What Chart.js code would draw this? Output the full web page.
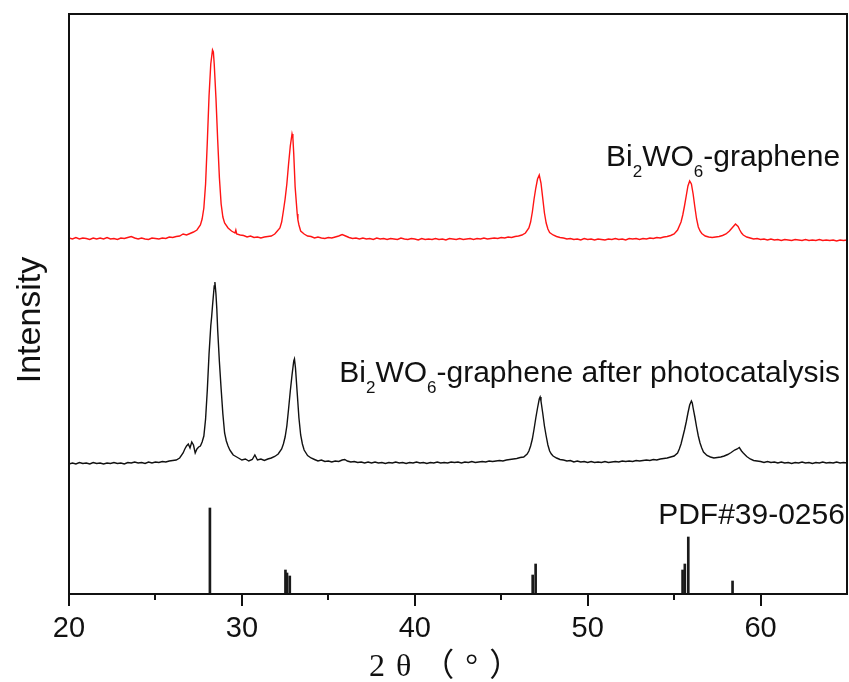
<!DOCTYPE html>
<html><head><meta charset="utf-8">
<script src="https://cdn.jsdelivr.net/npm/chart.js@4.4.1/dist/chart.umd.min.js"></script>
<style>html,body{margin:0;padding:0;background:#fff;overflow:hidden}canvas{display:block}</style>
</head><body>
<canvas id="c" width="849" height="682"></canvas>
<script>
// ---- DATA (2θ in degrees, intensity in arbitrary units) ----
const redScan = [
[20.0,356],[20.2,355],[20.4,356.5],[20.6,355],[20.8,356],[21.0,355.5],[21.2,354.5],[21.4,356],[21.6,355],[21.8,356],
[22.0,355],[22.2,356.5],[22.4,355],[22.6,355.5],[22.8,354.5],[23.0,356],[23.2,355.5],[23.4,356.5],[23.6,357.5],[23.8,356],
[24.0,355],[24.2,356],[24.4,355],[24.6,354.5],[24.8,356],[25.0,355.5],[25.2,355],[25.4,356],[25.6,355.5],[25.8,357],
[26.0,356.5],[26.2,357.5],[26.4,358],[26.6,360],[26.8,359],[27.0,360.5],[27.2,362],[27.4,364],[27.6,369],[27.7,375],
[27.8,386],[27.9,410],[28.0,452],[28.1,498],[28.2,530],[28.3,544],[28.35,542],[28.4,530],[28.5,496],[28.6,454],
[28.7,416],[28.8,390],[28.9,377],[29.0,371],[29.2,366],[29.4,363],[29.6,361],[29.65,364],[29.7,360],[29.9,359],
[30.1,358.5],[30.3,357],[30.5,358],[30.7,356.5],[30.9,357],[31.1,356],[31.3,357],[31.5,357.5],[31.7,358],[31.9,360],
[32.0,362],[32.2,366],[32.3,372],[32.4,383],[32.5,395],[32.6,410],[32.7,430],[32.8,448],[32.9,460],[32.95,456],
[33.0,440],[33.08,407],[33.2,380],[33.24,374],[33.3,369],[33.4,363],[33.6,360],[33.8,358],[34.0,357.5],[34.2,356],[34.4,357],
[34.6,356],[34.8,355.5],[35.0,356.5],[35.2,356],[35.4,357],[35.6,358],[35.8,359.5],[36.0,358],[36.2,356.5],[36.4,355.5],
[36.6,356],[36.8,355],[37.0,356],[37.2,355],[37.4,355.5],[37.6,354.5],[37.8,356],[38.0,355],[38.2,355.5],[38.4,354.5],
[38.6,355.5],[38.8,355],[39.0,354.5],[39.2,356],[39.4,355],[39.6,354.5],[39.8,355.5],[40.0,355],[40.2,354],[40.4,355.5],
[40.6,354.5],[40.8,355],[41.0,354.5],[41.2,355.5],[41.4,354.5],[41.6,355],[41.8,354],[42.0,355.5],[42.2,355],[42.4,354.5],
[42.6,355.5],[42.8,354.5],[43.0,355],[43.2,355.5],[43.4,354.5],[43.6,355.5],[43.8,355],[44.0,356],[44.2,355],[44.4,355.5],
[44.6,356],[44.8,355.5],[45.0,356.5],[45.2,356],[45.4,357],[45.6,356.5],[45.8,357.5],[46.0,358],[46.2,359],[46.4,361],
[46.6,366],[46.7,372],[46.8,382],[46.9,395],[47.0,406],[47.1,415],[47.2,419],[47.3,411],[47.4,396],[47.5,381],
[47.6,371],[47.7,365],[47.8,361.5],[48.0,359],[48.2,357.5],[48.4,356.5],[48.6,356],[48.8,355],[49.0,355.5],[49.2,354.5],
[49.4,355],[49.6,354],[49.8,355.5],[50.0,354.5],[50.2,355],[50.4,354],[50.6,355],[50.8,354.5],[51.0,354],[51.2,355],
[51.4,354.5],[51.6,355.5],[51.8,354.5],[52.0,355],[52.2,354],[52.4,355.5],[52.6,355],[52.8,355.5],[53.0,354.5],[53.2,355.5],
[53.4,355],[53.6,356],[53.8,355.5],[54.0,356.5],[54.2,356],[54.4,357],[54.6,357.5],[54.8,358.5],[55.0,360],[55.2,364],
[55.4,372],[55.5,379],[55.6,388],[55.7,398],[55.8,408],[55.9,413],[56.0,410],[56.1,400],[56.2,387],[56.3,375],
[56.4,367],[56.5,363],[56.6,360.5],[56.8,358],[57.0,357],[57.2,356.5],[57.4,357],[57.6,357.5],[57.8,358.5],[58.0,360],
[58.2,363],[58.4,367],[58.55,370],[58.7,367.5],[58.8,364],[58.9,361],[59.0,359],[59.2,357],[59.4,356],[59.6,355],
[59.8,355.5],[60.0,354.5],[60.2,355],[60.4,354],[60.6,355],[60.8,354],[61.0,354.5],[61.2,353.5],[61.4,354.5],[61.6,354],
[61.8,353.5],[62.0,354.5],[62.2,354],[62.4,353.5],[62.6,354.5],[62.8,353.5],[63.0,354],[63.2,353.5],[63.4,354.5],[63.6,353.5],
[63.8,354],[64.0,353.5],[64.2,354],[64.4,353],[64.6,354],[64.8,353.5],[65.0,354]
];
const blackScan = [
[20.0,130],[20.2,131],[20.4,130],[20.6,131.5],[20.8,130.5],[21.0,131],[21.2,130],[21.4,131.5],[21.6,130.5],[21.8,131],
[22.0,130],[22.2,131],[22.4,130.5],[22.6,131.5],[22.8,130.5],[23.0,131],[23.2,130],[23.4,131.5],[23.6,131],[23.8,132],
[24.0,131],[24.2,131.5],[24.4,130.5],[24.6,132],[24.8,131],[25.0,132],[25.2,131.5],[25.4,132.5],[25.6,132],[25.8,133],
[26.0,133.5],[26.2,134],[26.4,136],[26.6,141],[26.7,145],[26.8,148],[26.9,150],[27.0,146],[27.1,152],[27.2,149],
[27.3,141],[27.4,145],[27.5,147],[27.6,148],[27.7,152],[27.8,158],[27.9,175],[28.0,204],[28.1,240],[28.2,268],
[28.25,277],[28.3,288],[28.4,308],[28.44,312],[28.5,300],[28.55,285],[28.6,264],[28.7,232],[28.8,205],[28.9,180],
[29.0,161],[29.1,153],[29.2,148],[29.3,144],[29.4,141.5],[29.5,139],[29.6,138],[29.8,136],[30.0,134],[30.2,135],
[30.4,133],[30.6,134.5],[30.75,139],[30.9,134],[31.1,135],[31.3,133.5],[31.5,135],[31.7,136],[31.9,137.5],[32.1,140],
[32.3,145],[32.4,150],[32.5,157],[32.6,168],[32.7,185],[32.8,203],[32.9,219],[33.0,233],[33.04,235],[33.1,226],
[33.2,201],[33.3,176],[33.4,159],[33.5,150],[33.6,144],[33.8,138.5],[34.0,136],[34.2,134.5],[34.4,133],[34.6,134],
[34.8,132.5],[35.0,133],[35.2,132],[35.4,133],[35.6,132.5],[35.8,134],[35.95,134.5],[36.1,133],[36.3,132],[36.5,132.5],
[36.7,131.5],[36.9,132],[37.1,131],[37.3,132],[37.5,131],[37.7,132],[37.9,131],[38.1,131.5],[38.3,130.5],[38.5,131.5],
[38.7,131],[38.9,132],[39.1,131],[39.3,131.5],[39.5,130.5],[39.7,131.5],[39.9,131],[40.1,132],[40.3,131],[40.5,131.5],
[40.7,130.5],[40.9,131.5],[41.1,131],[41.3,132],[41.5,131],[41.7,131.5],[41.9,131],[42.1,132],[42.3,131.5],[42.5,132],
[42.7,131],[42.9,132],[43.1,131.5],[43.3,132.5],[43.5,131.5],[43.7,132],[43.9,132.5],[44.1,132],[44.3,133],[44.5,132.5],
[44.7,133],[44.9,133.5],[45.1,133],[45.3,134],[45.5,134.5],[45.7,135],[45.9,135.5],[46.1,136.5],[46.3,137],[46.5,140],
[46.6,143],[46.7,148],[46.8,155],[46.9,165],[47.0,176],[47.1,186],[47.2,195],[47.25,197],[47.3,193],[47.4,181],
[47.5,168],[47.6,158],[47.7,149],[47.8,143],[47.9,140],[48.0,138],[48.2,136],[48.4,134.5],[48.6,134],[48.8,133],
[49.0,133.5],[49.2,132],[49.4,133],[49.6,132],[49.8,132.5],[50.0,131.5],[50.2,132.5],[50.4,131.5],[50.6,132],[50.8,131.5],
[51.0,132.5],[51.2,131.5],[51.4,132],[51.6,132.5],[51.8,132],[52.0,133],[52.2,132.5],[52.4,133],[52.6,132.5],[52.8,133.5],
[53.0,133],[53.2,133.5],[53.4,134],[53.6,133.5],[53.8,134.5],[54.0,134],[54.2,135],[54.4,135.5],[54.6,136],[54.8,137],
[55.0,138],[55.2,141],[55.3,145],[55.4,150],[55.5,157],[55.6,164],[55.7,172],[55.8,181],[55.9,189],[56.0,193],
[56.05,191],[56.1,186],[56.2,177],[56.3,167],[56.4,158],[56.5,151],[56.6,146],[56.7,142],[56.9,138.5],[57.1,137],
[57.3,136],[57.5,136.5],[57.7,137],[57.9,138],[58.1,139.5],[58.3,141.5],[58.5,144],[58.65,145],[58.77,146.5],[58.9,143],
[59.0,141],[59.2,137.5],[59.4,135],[59.6,133.5],[59.8,133],[60.0,132.5],[60.2,131.5],[60.4,132.5],[60.6,131.5],[60.8,132],
[61.0,131],[61.2,132],[61.4,131],[61.6,131.5],[61.8,130.5],[62.0,131.5],[62.2,131],[62.4,132],[62.6,131],[62.8,131.5],
[63.0,130.5],[63.2,131.5],[63.4,131],[63.6,132],[63.8,131],[64.0,131.5],[64.2,131],[64.4,132],[64.6,131],[64.8,131.5],
[65.0,131]
];
const refTheta     = [28.15, 32.52, 32.61, 32.77, 46.82, 46.99, 55.49, 55.62, 55.82, 58.38];
const refIntensity = [86,    24,    21,    18,    19,    30,    24,    30,    57,    13];
const xTickValues  = [20, 25, 30, 35, 40, 45, 50, 55, 60];
const xTickLabels  = ['20', '', '30', '', '40', '', '50', '', '60'];
const seriesLabels = [
  [['Bi',0],['2',1],['WO',0],['6',1],['-graphene',0]],
  [['Bi',0],['2',1],['WO',0],['6',1],['-graphene after photocatalysis',0]],
  [['PDF#39-0256',0]]
];
const xTitle = '2θ（°）';
const yTitle = 'Intensity';

// ---- layout / style (not data) ----
const labelAnchors = [{x:64.6,y:428},{x:64.6,y:212},{x:64.88,y:70}];
const SANS = '"Liberation Sans", Arial, sans-serif';

const decor = {
  id: 'decor',
  afterDraw(chart) {
    const ctx = chart.ctx, a = chart.chartArea, xs = chart.scales.x, ys = chart.scales.y;
    ctx.save();
    // frame
    ctx.strokeStyle = '#111';
    ctx.lineWidth = 2;
    ctx.strokeRect(a.left, a.top, a.right - a.left, a.bottom - a.top);
    // ticks (bottom axis only)
    xTickValues.forEach((v, i) => {
      const px = Math.round(xs.getPixelForValue(v));
      const len = xTickLabels[i] ? 12 : 6;
      ctx.beginPath();
      ctx.moveTo(px, a.bottom);
      ctx.lineTo(px, a.bottom + len);
      ctx.stroke();
    });
    // series labels
    ctx.fillStyle = '#111';
    ctx.textBaseline = 'alphabetic';
    seriesLabels.forEach((parts, k) => {
      const mainF = '30px ' + SANS, subF = '17px ' + SANS;
      let w = 0;
      parts.forEach(p => { ctx.font = p[1] ? subF : mainF; w += ctx.measureText(p[0]).width; });
      let x = xs.getPixelForValue(labelAnchors[k].x) - w;
      const y = ys.getPixelForValue(labelAnchors[k].y);
      ctx.textAlign = 'left';
      parts.forEach(p => {
        ctx.font = p[1] ? subF : mainF;
        ctx.fillText(p[0], x, p[1] ? y + 10.5 : y);
        x += ctx.measureText(p[0]).width;
      });
    });
    // x title
    ctx.font = '32px "Liberation Serif", "Noto Sans CJK SC", serif';
    ctx.textAlign = 'left';
    ctx.letterSpacing = '11px';
    ctx.fillText(xTitle, 369, 676);
    ctx.letterSpacing = '0px';
    // y title
    ctx.translate(40, 320);
    ctx.rotate(-Math.PI / 2);
    ctx.font = '34px ' + SANS;
    ctx.textAlign = 'center';
    ctx.fillText(yTitle, 0, 0);
    ctx.restore();
  }
};

new Chart(document.getElementById('c'), {
  type: 'line',
  data: {
    datasets: [
      { label: 'Bi2WO6-graphene', data: redScan.map(p => ({x: p[0], y: p[1]})),
        borderColor: 'rgb(255,20,20)', borderWidth: 1.4, pointRadius: 0, tension: 0, fill: false },
      { label: 'Bi2WO6-graphene after photocatalysis', data: blackScan.map(p => ({x: p[0], y: p[1]})),
        borderColor: '#111', borderWidth: 1.4, pointRadius: 0, tension: 0, fill: false },
      { type: 'bar', label: 'PDF#39-0256', data: refTheta.map((t, i) => ({x: t, y: refIntensity[i]})),
        backgroundColor: '#1a1a1a', borderWidth: 0, barThickness: 2, grouped: false }
    ]
  },
  options: {
    responsive: false, animation: false, devicePixelRatio: 1,
    layout: { padding: { left: 69, right: 2, top: 14, bottom: 0 } },
    plugins: { legend: { display: false }, tooltip: { enabled: false } },
    scales: {
      x: {
        type: 'linear', min: 20, max: 65, offset: false,
        grid: { display: false, drawTicks: false, offset: false },
        border: { display: false },
        afterBuildTicks: s => { s.ticks = xTickValues.map(v => ({ value: v })); },
        afterFit: s => { s.height = 88; },
        ticks: {
          autoSkip: false, maxRotation: 0, padding: 18, color: '#111',
          font: { family: SANS, size: 29 },
          callback: (v, i) => xTickLabels[i]
        }
      },
      y: { type: 'linear', min: 0, max: 580, display: false }
    }
  },
  plugins: [decor]
});
</script>
</body></html>
